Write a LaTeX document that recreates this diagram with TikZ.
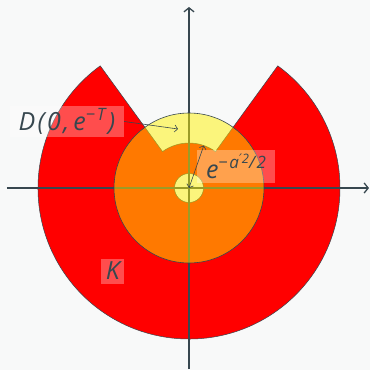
\documentclass[tikz,border=0pt]{standalone}
\usepackage{fontspec}
\setmainfont{Open Sans}
\newfontfamily\primefont{DejaVu Sans}
\usetikzlibrary{arrows.meta}
\definecolor{ink}{HTML}{37474F}
\definecolor{bg}{HTML}{F8F9F9}
\definecolor{kred}{HTML}{FF0000}
\definecolor{dyel}{HTML}{FFF200}
\begin{document}
\begin{tikzpicture}[x=1pt,y=1pt,
  lbl/.style={fill=white, fill opacity=0.3, text opacity=1, text=ink, inner sep=2pt, font=\fontsize{25}{25}\selectfont\itshape\addfontfeatures{LetterSpace=9}},
  axis/.style={draw=ink, line width=1.3pt, -{Straight Barb[length=4pt,width=10pt]}},
  thinarrow/.style={draw=ink, line width=0.6pt}]
\fill[bg] (-189,-182) rectangle (181,188);
\useasboundingbox (-189,-182) rectangle (181,188);
\coordinate (O) at (0,0);
\coordinate (xl) at (-182,0);
\coordinate (xr) at (180,0);
\coordinate (yb) at (0,-181);
\coordinate (yt) at (0,181);
% K
\path[fill=kred, draw=ink, line width=0.5pt, even odd rule]
  (126:151) arc[start angle=126, end angle=414, radius=151] -- (54:45)
  arc[start angle=54, end angle=126, radius=45] -- cycle
  (O) circle[radius=14.5];
% axes
\draw[axis] (xl) -- (xr);
\draw[axis] (yb) -- (yt);
% D(0,e^{-T})
\fill[dyel, fill opacity=0.5] (O) circle[radius=75];
\draw[ink, line width=0.6pt] (O) circle[radius=75];
% labels
\node[lbl, minimum width=114pt, minimum height=29pt] (dlab) at (-122,66.5) {D(0,\,e\raisebox{0.42em}{\fontsize{17}{17}\selectfont −T\,})};
\coordinate (dtip) at (-11,59);
\draw[thinarrow, -{Straight Barb[length=3pt,width=7pt]}] (dlab.east) -- (dtip);
\node[lbl, minimum width=78pt, minimum height=33pt] (elab) at (47,21.5) {e\raisebox{0.42em}{\fontsize{17}{17}\selectfont −a\raisebox{0.3em}{\fontsize{13}{13}\selectfont{\primefont ′}2}/2}};
\coordinate (rtip) at (70.8:45);
\draw[thinarrow, {Straight Barb[length=3pt,width=7pt]}-{Straight Barb[length=3pt,width=7pt]}] (O) -- (rtip);
\node[lbl, minimum width=23pt, minimum height=25pt] (klab) at (-76,-83) {K};
\end{tikzpicture}
\end{document}
